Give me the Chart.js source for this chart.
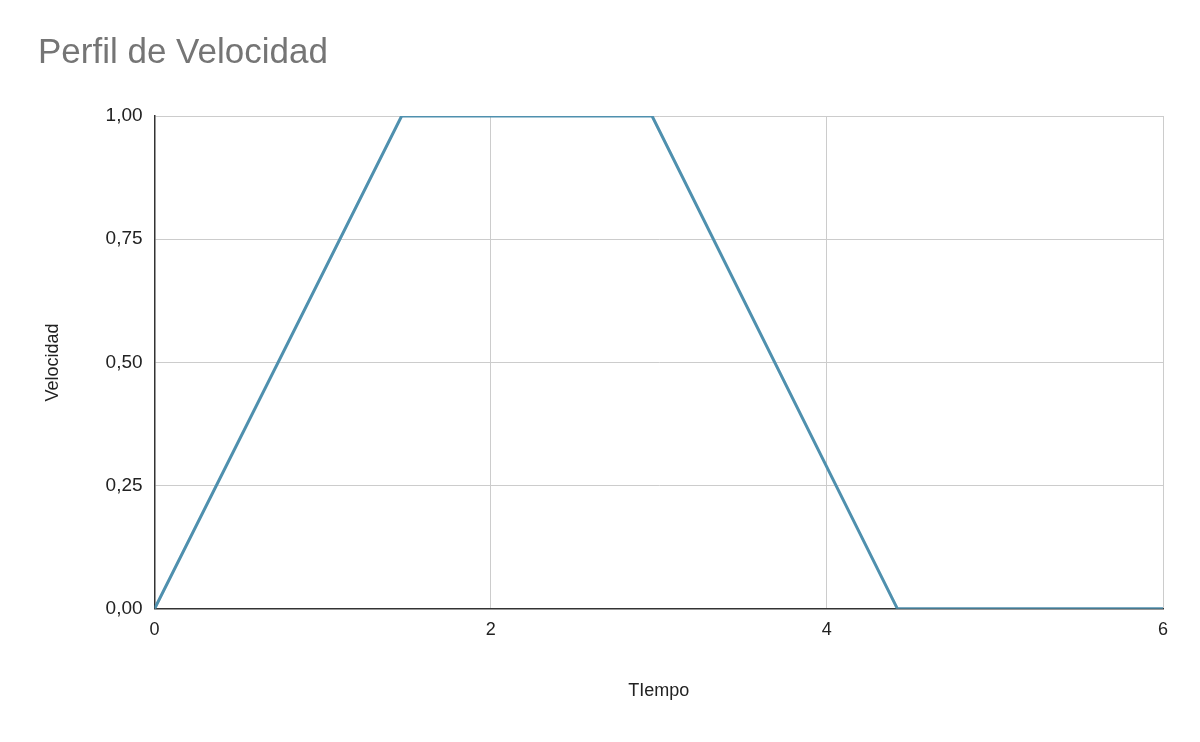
<!DOCTYPE html>
<html><head><meta charset="utf-8">
<script src="https://cdn.jsdelivr.net/npm/chart.js@4"></script>
<style>html,body{margin:0;padding:0;background:#fff}#w{width:1200px;height:742px}</style>
</head><body><div id="w"><canvas id="c"></canvas></div>
<script>
const tiempo = [0, 1.47, 2.96, 4.42, 6];
const velocidad = [0, 1, 1, 0, 0];
const yTicks = [0, 0.25, 0.5, 0.75, 1];
const xTicks = [0, 2, 4, 6];
const font = "Arial, 'Liberation Sans', sans-serif";
new Chart(document.getElementById('c'), {
  type: 'scatter',
  data: { datasets: [{ data: tiempo.map((t,i)=>({x:t,y:velocidad[i]})), showLine: true,
    borderColor: '#4f90ae', borderWidth: 3, pointRadius: 0, tension: 0 }] },
  options: {
    responsive: true, maintainAspectRatio: false, animation: false,
    layout: { padding: { left: 38, right: 37, top: 18, bottom: 36 } },
    plugins: { legend: { display: false }, tooltip: { enabled: false },
      title: { display: true, text: 'Perfil de Velocidad', align: 'start', color: '#757575',
        font: { family: font, size: 35, weight: 'normal' }, padding: { top: 14, bottom: 42 } } },
    scales: {
      x: { type: 'linear', min: 0, max: 6, afterBuildTicks: a => { a.ticks = xTicks.map(v=>({value:v})); },
        grid: { color: '#cccccc', drawTicks: false }, border: { color: '#333', width: 1.5 },
        ticks: { color: '#222', font: { family: font, size: 18 }, padding: 10 },
        title: { display: true, text: 'TIempo', color: '#222', font: { family: font, size: 18 }, padding: { top: 30 } } },
      y: { min: 0, max: 1, afterBuildTicks: a => { a.ticks = yTicks.map(v=>({value:v})); },
        grid: { color: '#cccccc', drawTicks: false }, border: { color: '#333', width: 1.5 },
        ticks: { color: '#222', font: { family: font, size: 19 }, padding: 12,
          callback: v => v.toFixed(2).replace('.', ',') },
        title: { display: true, text: 'Velocidad', color: '#222', font: { family: font, size: 18 }, padding: { bottom: 30 } } }
    }
  }
});
</script></body></html>
